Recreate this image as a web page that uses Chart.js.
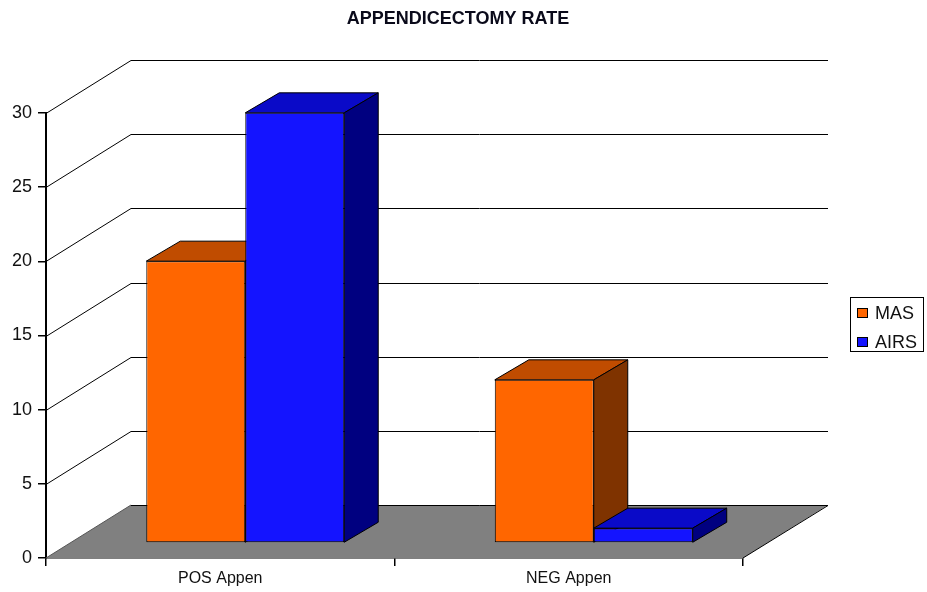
<!DOCTYPE html>
<html>
<head>
<meta charset="utf-8">
<script src="https://cdn.jsdelivr.net/npm/chart.js@4.4.1/dist/chart.umd.min.js"></script>
<style>
  body { margin: 0; background: #fff; }
  canvas { display: block; }
</style>
</head>
<body>
<canvas id="chart-canvas" width="927" height="592"></canvas>
<script>
const categories = ['POS Appen', 'NEG Appen'];
const masValues = [19, 11];
const airsValues = [29, 1];
const seriesNames = ['MAS', 'AIRS'];

// colours: front / top / side face of each series
const frontColors = ['#FF6600', '#1414FF'];
const topColors = ['#C04C00', '#0A0AC8'];
const sideColors = ['#7F3300', '#000080'];

// fake 3d geometry (pixels)
const WALL_DX = 85, WALL_DY = -53;   // floor / back wall depth
const BAR_DX = 25, BAR_DY = -15;     // bar front face offset from front plane
const DEPTH_DX = 34, DEPTH_DY = -20; // bar depth

const FONT = "'Liberation Sans', Arial, sans-serif";

function poly(ctx, pts, fill) {
  ctx.beginPath();
  ctx.moveTo(pts[0][0], pts[0][1]);
  for (let i = 1; i < pts.length; i++) ctx.lineTo(pts[i][0], pts[i][1]);
  ctx.closePath();
  ctx.fillStyle = fill;
  ctx.fill();
  ctx.stroke();
}

const depth3d = {
  id: 'depth3d',
  afterLayout(chart) {
    // center the title over the whole canvas, not just the padded area
    const t = chart.titleBlock;
    t.left = 0;
    t.right = 916;
    t.width = 916;
  },
  beforeDatasetsDraw(chart) {
    const {ctx, chartArea: a, scales: {y}} = chart;
    ctx.save();
    ctx.strokeStyle = '#000';
    ctx.lineWidth = 1;

    // back wall gridlines
    y.ticks.forEach(t => {
      if (t.value === 0) return;
      const py = Math.round(y.getPixelForValue(t.value)) + 0.5;
      ctx.beginPath();
      ctx.moveTo(a.left, py);
      ctx.lineTo(a.left + WALL_DX, py + WALL_DY);
      ctx.lineTo(a.right + WALL_DX, py + WALL_DY);
      ctx.stroke();
    });

    // floor
    const fy = a.bottom;
    ctx.beginPath();
    ctx.moveTo(a.left, fy);
    ctx.lineTo(a.right, fy);
    ctx.lineTo(a.right + WALL_DX, fy + WALL_DY);
    ctx.lineTo(a.left + WALL_DX, fy + WALL_DY);
    ctx.closePath();
    ctx.fillStyle = '#808080';
    ctx.fill();
    ctx.beginPath();
    ctx.moveTo(a.left + WALL_DX, fy + WALL_DY + 0.5);
    ctx.lineTo(a.right + WALL_DX, fy + WALL_DY + 0.5);
    ctx.lineTo(a.right, fy);
    ctx.stroke();
    ctx.strokeStyle = '#555';
    ctx.beginPath();
    ctx.moveTo(a.left, fy);
    ctx.lineTo(a.left + WALL_DX, fy + WALL_DY);
    ctx.stroke();

    // top and side faces of the bars
    ctx.strokeStyle = '#000';
    chart.data.datasets.forEach((ds, i) => {
      chart.getDatasetMeta(i).data.forEach(bar => {
        const p = bar.getProps(['x', 'y', 'base', 'width'], true);
        const L = p.x - p.width / 2 + BAR_DX, R = p.x + p.width / 2 + BAR_DX;
        const T = p.y + BAR_DY, B = p.base + BAR_DY;
        poly(ctx, [[L, T], [R, T], [R + DEPTH_DX, T + DEPTH_DY], [L + DEPTH_DX, T + DEPTH_DY]], topColors[i]);
        poly(ctx, [[R, T], [R + DEPTH_DX, T + DEPTH_DY], [R + DEPTH_DX, B + DEPTH_DY], [R, B]], sideColors[i]);
      });
    });
    ctx.restore();

    // front faces are drawn by chart.js, shifted into depth
    ctx.save();
    ctx.translate(BAR_DX, BAR_DY);
  },
  afterDatasetsDraw(chart) {
    chart.ctx.restore();
  },
  afterDraw(chart) {
    const ctx = chart.ctx;
    ctx.save();
    ctx.strokeStyle = '#000';
    ctx.lineWidth = 1;
    ctx.strokeRect(850.5, 297.5, 73, 54);
    ctx.font = '18px ' + FONT;
    ctx.textBaseline = 'middle';
    chart.data.datasets.forEach((ds, i) => {
      const yy = 308 + i * 29;
      ctx.fillStyle = ds.backgroundColor;
      ctx.fillRect(857, yy, 11, 10);
      ctx.strokeRect(857.5, yy + 0.5, 10, 9);
      ctx.fillStyle = '#111';
      ctx.fillText(ds.label, 875, yy + 6);
    });
    ctx.restore();
  }
};

const chartCtx = document.getElementById('chart-canvas');

const barChart = new Chart(chartCtx, {
  type: 'bar',
  data: {
    labels: categories,
    datasets: [
      {
        label: seriesNames[0],
        data: masValues,
        backgroundColor: frontColors[0],
        borderColor: '#000',
        borderWidth: 1,
        borderSkipped: false,
        clip: false
      },
      {
        label: seriesNames[1],
        data: airsValues,
        backgroundColor: frontColors[1],
        borderColor: '#000',
        borderWidth: 1,
        borderSkipped: false,
        clip: false
      }
    ]
  },
  options: {
    responsive: false,
    animation: false,
    devicePixelRatio: 1,
    layout: { padding: { left: 0, right: 184, top: 0, bottom: 0 } },
    datasets: { bar: { barPercentage: 1, categoryPercentage: 0.568 } },
    plugins: {
      legend: { display: false },
      tooltip: { enabled: false },
      title: {
        display: true,
        text: 'APPENDICECTOMY RATE',
        color: '#0a0a1a',
        font: { family: FONT, size: 18, weight: 'bold' },
        padding: { top: 8, bottom: 83.4 }
      }
    },
    scales: {
      x: {
        grid: { offset: true, drawOnChartArea: false, color: '#000', tickLength: 8, lineWidth: 1.5 },
        border: { color: '#000', width: 1.5 },
        ticks: { color: '#111', font: { family: FONT, size: 16 }, padding: 3 },
        afterFit: s => { s.height = 34; }
      },
      y: {
        min: 0,
        max: 30,
        grid: { drawOnChartArea: false, color: '#000', tickLength: 8, lineWidth: 1.5 },
        border: { color: '#000', width: 2 },
        ticks: { stepSize: 5, color: '#111', font: { family: FONT, size: 18 }, padding: 6 },
        afterFit: s => { s.width = 46; }
      }
    }
  },
  plugins: [depth3d]
});
</script>
</body>
</html>
